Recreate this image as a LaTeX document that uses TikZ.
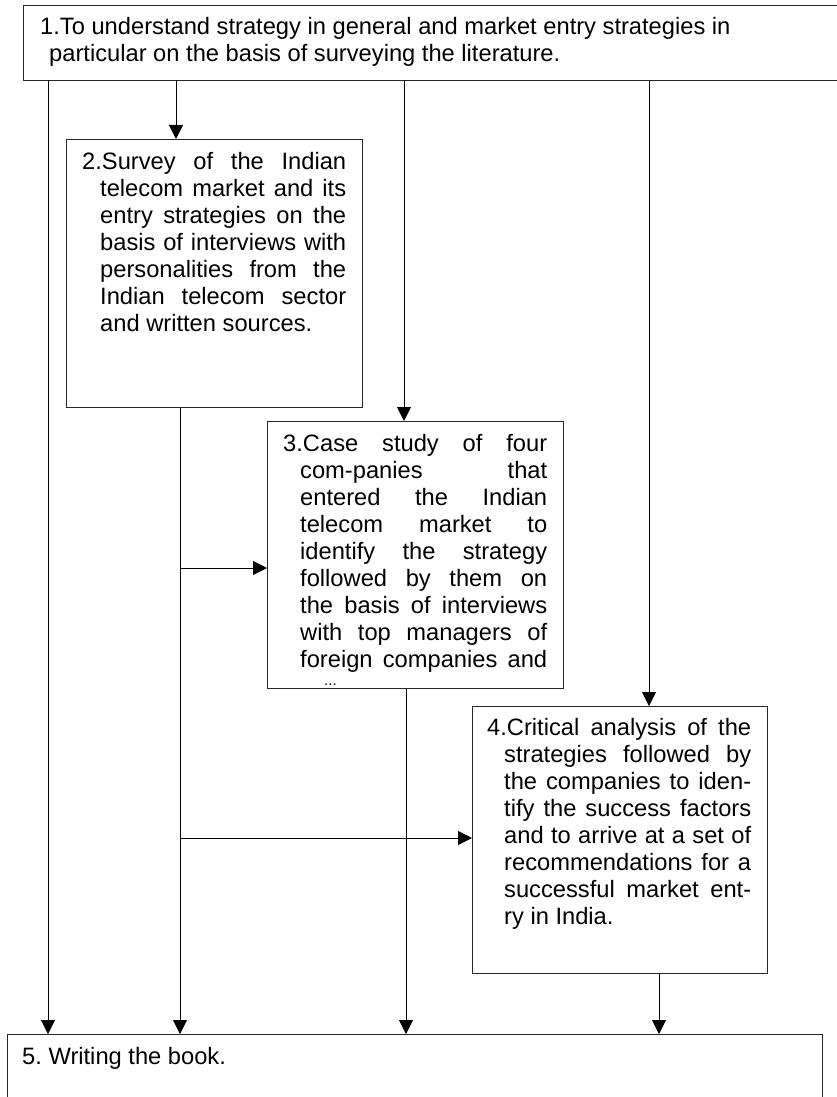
\documentclass[tikz,border=0pt]{standalone}
\usepackage{fontspec}
\setmainfont{Liberation Sans}
\usetikzlibrary{arrows.meta}
\frenchspacing
\begin{document}
\begin{tikzpicture}[x=1pt,y=-1pt,
  box/.style={draw=black!85, line width=1pt, rectangle, inner sep=0pt, anchor=north west},
  flow/.style={line width=0.9pt, -{Triangle[width=14pt,length=14pt]}},
  txt/.style={inner sep=0pt, anchor=base west, font=\fontsize{23.7}{27}\selectfont},
  stepbody/.style={txt, execute at begin node={\tolerance=10000\hyphenpenalty=10000}}]
\useasboundingbox (0,0) rectangle (837,1097);
\fill[white] (0,0) rectangle (837,1097);

% boxes
\node[box, minimum width=827pt, minimum height=75pt] (b1) at (23,5) {};
\node[box, minimum width=296pt, minimum height=268pt] (b2) at (66,139) {};
\node[box, minimum width=296pt, minimum height=267pt] (b3) at (267,421) {};
\node[box, minimum width=295pt, minimum height=267pt] (b4) at (472,706) {};
\node[box, minimum width=815pt, minimum height=100pt] (b5) at (7,1034) {};

% texts
\node[stepbody] (t1) at (40,35) {\parbox[t]{790pt}{\raggedright\hangindent=9pt\hangafter=1
1.To understand strategy in general and market entry strategies in\newline
particular on the basis of surveying the literature.}};
\node[stepbody] (t2) at (82,169) {\parbox[t]{264pt}{\hangindent=18pt\hangafter=1
2.Survey of the Indian\linebreak telecom market and its\linebreak
entry strategies on the\linebreak basis of interviews with\linebreak
personalities from the\linebreak Indian telecom sector\linebreak
and written sources.}};
\node[stepbody] (t3) at (283,451) {\parbox[t]{264pt}{\hangindent=17pt\hangafter=1
3.Case study of four\linebreak com-panies that\linebreak
entered the Indian\linebreak telecom market to\linebreak
identify the strategy\linebreak followed by them on\linebreak
the basis of interviews\linebreak with top managers of\linebreak
foreign companies and\linebreak}};
\node[inner sep=0pt, anchor=base west, font=\fontsize{15}{15}\selectfont] (t3more) at (324,685) {...};
\node[stepbody] (t4) at (487,735) {\parbox[t]{264pt}{\hangindent=17pt\hangafter=1
4.Critical analysis of the\linebreak strategies followed by\linebreak
the companies to iden-\linebreak tify the success factors\linebreak
and to arrive at a set of\linebreak recommendations for a\linebreak
successful market ent-\linebreak ry in India.}};
\node[txt] (t5) at (22,1064) {5. Writing the book.};

% columns and junctions
\coordinate (c1) at (48,0);
\coordinate (c2) at (176,0);
\coordinate (c3) at (404,0);
\coordinate (c4) at (649,0);
\coordinate (c5) at (406,0);
\coordinate (c6) at (659,0);
\coordinate (j1) at (180,568);
\coordinate (j2) at (180,838);

% connectors
\draw[flow] (b1.south -| c1) -- (b5.north -| c1);
\draw[flow] (b1.south -| c2) -- (b2.north -| c2);
\draw[flow] (b1.south -| c3) -- (b3.north -| c3);
\draw[flow] (b1.south -| c4) -- (b4.north -| c4);
\draw[flow] (b2.south -| j1) -- (b5.north -| j1);
\draw[flow] (j1) -- (j1 -| b3.west);
\draw[flow] (j2) -- (j2 -| b4.west);
\draw[flow] (b3.south -| c5) -- (b5.north -| c5);
\draw[flow] (b4.south -| c6) -- (b5.north -| c6);
\end{tikzpicture}
\end{document}
